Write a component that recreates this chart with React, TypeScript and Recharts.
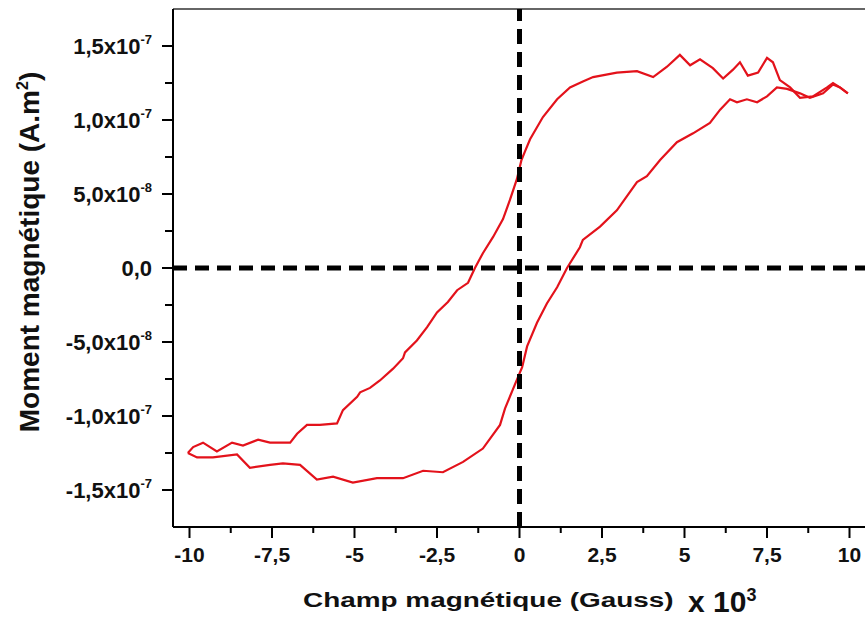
import React from 'react'
import { LineChart, Line, XAxis, YAxis, ReferenceLine, Label } from 'recharts'

// champ magnétique (x10^3 Gauss) / moment (x1e-7 A.m²)
const UPPER_H = [
  9.95, 9.71, 9.5, 9.32, 8.89, 8.5, 8.2, 7.89, 7.68, 7.5, 7.23, 6.92, 6.68, 6.47, 6.17, 5.86,
  5.47, 5.17, 4.86, 4.47, 4.05, 3.56, 2.95, 2.23, 1.92, 1.53, 1.14, 0.71, 0.32, 0.17, 0.06,
  -0.08, -0.29, -0.5, -0.8, -1.11, -1.35, -1.56, -1.89, -2.17, -2.5, -2.8, -3.11, -3.47, -3.53,
  -3.83, -4.23, -4.53, -4.83, -4.92, -5.35, -5.53, -6.05, -6.44, -6.74, -6.95, -7.56, -7.92,
  -8.38, -8.71, -9.17, -9.59, -9.89, -10.05,
]
const UPPER_M = [
  1.18, 1.22, 1.25, 1.22, 1.16, 1.15, 1.22, 1.27, 1.39, 1.42, 1.32, 1.3, 1.39, 1.34, 1.28, 1.35,
  1.41, 1.37, 1.44, 1.36, 1.29, 1.33, 1.32, 1.29, 1.26, 1.22, 1.14, 1.02, 0.87, 0.79, 0.73,
  0.6, 0.46, 0.33, 0.21, 0.1, 0.0, -0.1, -0.15, -0.23, -0.3, -0.4, -0.49, -0.57, -0.61,
  -0.68, -0.76, -0.81, -0.84, -0.87, -0.96, -1.05, -1.06, -1.06, -1.12, -1.18, -1.18, -1.16,
  -1.2, -1.18, -1.24, -1.18, -1.21, -1.25,
]
const LOWER_H = [
  -10.05, -9.77, -9.29, -8.56, -8.17, -7.56, -7.17, -6.65, -6.14, -5.65, -5.05, -4.32, -3.53,
  -2.92, -2.32, -1.71, -1.11, -0.59, -0.44, -0.2, 0.08, 0.23, 0.53, 0.83, 1.14, 1.44, 1.83,
  1.92, 2.44, 2.95, 3.56, 3.86, 4.26, 4.77, 5.26, 5.77, 6.08, 6.38, 6.59, 6.89, 7.2, 7.5, 7.8,
  8.11, 8.5, 8.8, 9.2, 9.5, 9.71, 9.95,
]
const LOWER_M = [
  -1.25, -1.28, -1.28, -1.26, -1.35, -1.33, -1.32, -1.33, -1.43, -1.41, -1.45, -1.42, -1.42,
  -1.37, -1.38, -1.31, -1.22, -1.06, -0.95, -0.82, -0.67, -0.53, -0.37, -0.24, -0.13, 0.0, 0.14,
  0.19, 0.28, 0.39, 0.58, 0.62, 0.73, 0.85, 0.91, 0.98, 1.07, 1.14, 1.12, 1.14, 1.12, 1.16, 1.22,
  1.21, 1.18, 1.15, 1.18, 1.24, 1.22, 1.18,
]

const X_MAJOR = [-10, -7.5, -5, -2.5, 0, 2.5, 5, 7.5, 10]
const X_MINOR = [-8.75, -6.25, -3.75, -1.25, 1.25, 3.75, 6.25, 8.75]
const Y_MAJOR = [-1.5, -1, -0.5, 0, 0.5, 1, 1.5]
const Y_MINOR = [-1.25, -0.75, -0.25, 0.25, 0.75, 1.25]

const upper = UPPER_H.map((h, i) => ({ h, m: UPPER_M[i] }))
const lower = LOWER_H.map((h, i) => ({ h, m: LOWER_M[i] }))

const FONT = '"Liberation Sans", Arial, sans-serif'
const RED = '#e3121b'

const fmtX = (v: number) => String(v).replace('.', ',')

function XTick(props: any) {
  const { x, y, payload } = props
  const major = X_MAJOR.includes(payload.value)
  return (
    <g>
      <line x1={x} x2={x} y1={y} y2={y + (major ? 11 : 6)} stroke="#000" strokeWidth={2} />
      {major && (
        <text x={x} y={y + 35} textAnchor="middle" fontFamily={FONT} fontWeight="bold" fontSize={21} fill="#111">
          {fmtX(payload.value)}
        </text>
      )}
    </g>
  )
}

function YTick(props: any) {
  const { x, y, payload } = props
  const v = payload.value
  const major = Y_MAJOR.includes(v)
  let body = null
  if (major) {
    if (v === 0) {
      body = '0,0'
    } else {
      const small = Math.abs(v) < 1
      const mant = (small ? v * 10 : v).toFixed(1).replace('.', ',')
      body = (
        <>
          {mant + 'x10'}
          <tspan dy={-10} fontSize={13}>{small ? '-8' : '-7'}</tspan>
        </>
      )
    }
  }
  return (
    <g>
      <line x1={x} x2={x - (major ? 11 : 8)} y1={y} y2={y} stroke="#000" strokeWidth={2} />
      {major && (
        <text x={x - 21} y={y + 8} textAnchor="end" fontFamily={FONT} fontWeight="bold" fontSize={22} fill="#111">
          {body}
        </text>
      )}
    </g>
  )
}

const YTitle = () => (
  <text
    transform="translate(39,252) rotate(-90)"
    textAnchor="middle"
    fontFamily={FONT}
    fontWeight="bold"
    fontSize={28}
    fill="#111"
  >
    Moment magnétique (A.m
    <tspan dy={-11} fontSize={16}>2</tspan>
    <tspan dy={11}>)</tspan>
  </text>
)

const XTitle = () => (
  <g fontFamily={FONT} fontWeight="bold" fill="#111">
    <text transform="translate(303,607) scale(1.33,1)" fontSize={21}>
      Champ magnétique (Gauss)
    </text>
    <text x={688} y={612} fontSize={30}>
      x 10
      <tspan dy={-11} fontSize={18}>3</tspan>
    </text>
  </g>
)

export default function App() {
  return (
    <div style={{ position: 'absolute', left: 0, top: 0, width: 865, height: 619, overflow: 'hidden', background: '#fff' }}>
      <LineChart width={866} height={619} margin={{ top: 9, right: 0, bottom: 0, left: 0 }}>
        <XAxis
          type="number"
          dataKey="h"
          domain={[-10.5, 10.5]}
          ticks={[...X_MAJOR, ...X_MINOR].sort((a, b) => a - b)}
          interval={0}
          allowDataOverflow
          height={92}
          tickSize={0}
          tickMargin={0}
          tickLine={false}
          axisLine={{ stroke: '#000', strokeWidth: 2 }}
          tick={<XTick />}
        >
          <Label content={<XTitle />} />
        </XAxis>
        <YAxis
          type="number"
          domain={[-1.75, 1.75]}
          ticks={[...Y_MAJOR, ...Y_MINOR].sort((a, b) => a - b)}
          interval={0}
          allowDataOverflow
          width={173}
          tickSize={0}
          tickMargin={0}
          tickLine={false}
          axisLine={{ stroke: '#000', strokeWidth: 2 }}
          tick={<YTick />}
        >
          <Label content={<YTitle />} />
        </YAxis>
        <ReferenceLine y={1.75} stroke="#333" strokeWidth={1.5} />
        <Line data={upper} dataKey="m" type="linear" stroke={RED} strokeWidth={2.2} dot={false} isAnimationActive={false} />
        <Line data={lower} dataKey="m" type="linear" stroke={RED} strokeWidth={2.2} dot={false} isAnimationActive={false} />
        <ReferenceLine y={0} stroke="#000" strokeWidth={5} strokeDasharray="14 8" />
        <ReferenceLine x={0} stroke="#000" strokeWidth={5} strokeDasharray="15 8" />
      </LineChart>
    </div>
  )
}
